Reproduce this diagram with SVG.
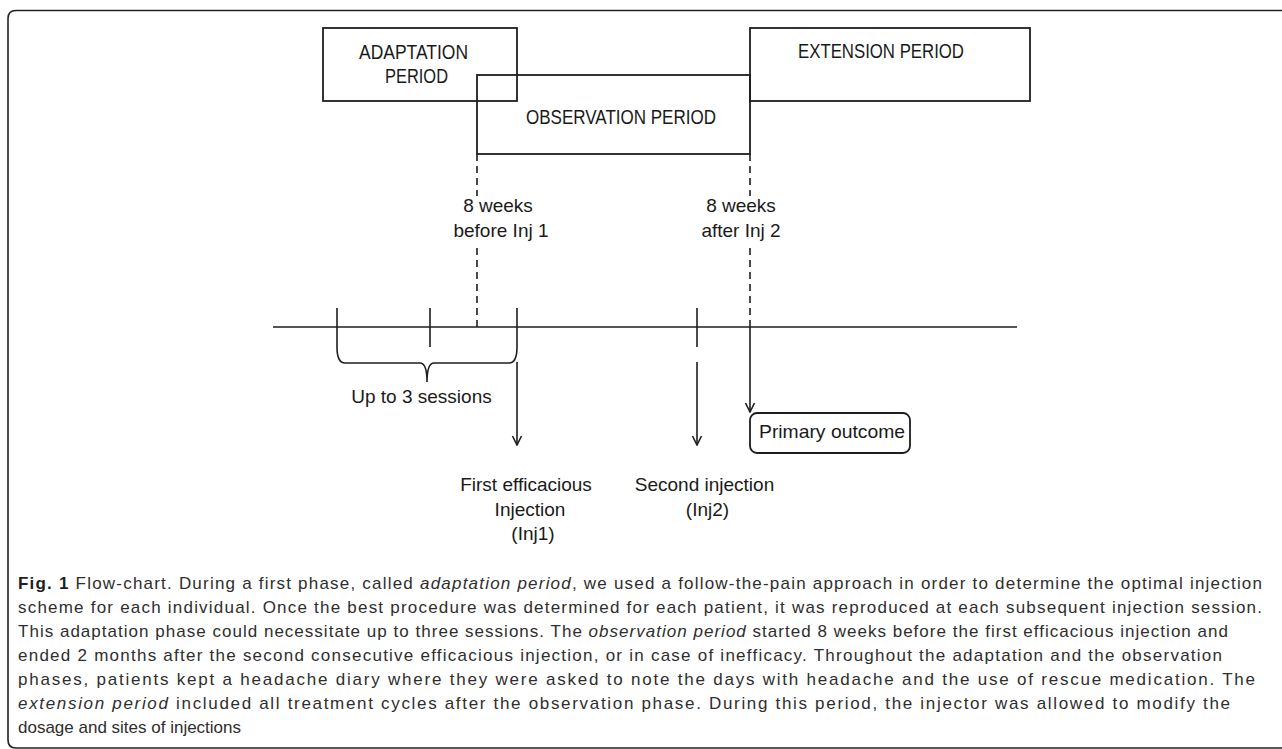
<svg xmlns="http://www.w3.org/2000/svg" width="1282" height="749" viewBox="0 0 1282 749">
<style>
.box{fill:none;stroke:#1e1e1e;stroke-width:1.8}
.ln{fill:none;stroke:#1e1e1e;stroke-width:1.6}
.dash{fill:none;stroke:#1e1e1e;stroke-width:1.6;stroke-dasharray:7 5}
.t{font-family:"Liberation Sans",Arial,sans-serif;font-size:19px;fill:#1a1a1a}
.cp{font-size:19.5px}
.c{text-anchor:middle}
.cap{font-family:"Liberation Sans",Arial,sans-serif;font-size:17px;fill:#2e2e2e}
.b{font-weight:bold;fill:#1e1e1e}
.i{font-style:italic}
</style>
<defs>
<marker id="arr" viewBox="0 0 12 12" refX="11" refY="6" markerWidth="12" markerHeight="12" markerUnits="userSpaceOnUse" orient="auto">
<path d="M2,1.5 L11,6 L2,10.5" fill="none" stroke="#1e1e1e" stroke-width="1.6"/>
</marker>
</defs>
<path d="M1282 10.5 H16 Q8 10.5 8 18.5 V740 Q8 748 16 748 H1282" fill="none" stroke="#222" stroke-width="1.6"/>

<g id="adaptation">
<rect class="box" x="323" y="28" width="194" height="73"/>
<text class="t cp c" x="413.5" y="59" textLength="109" lengthAdjust="spacingAndGlyphs">ADAPTATION</text>
<text class="t cp c" x="416.5" y="83" textLength="63" lengthAdjust="spacingAndGlyphs">PERIOD</text>
</g>
<g id="observation">
<rect class="box" x="477" y="75" width="273" height="79"/>
<text class="t cp c" x="621" y="124" textLength="190" lengthAdjust="spacingAndGlyphs">OBSERVATION PERIOD</text>
</g>
<g id="extension">
<rect class="box" x="750" y="28" width="280" height="73"/>
<text class="t cp c" x="881" y="58" textLength="166" lengthAdjust="spacingAndGlyphs">EXTENSION PERIOD</text>
</g>
<g id="label-before">
<text class="t c" x="498" y="212">8 weeks</text>
<text class="t c" x="501" y="237">before Inj 1</text>
</g>
<g id="label-after">
<text class="t c" x="741" y="212">8 weeks</text>
<text class="t c" x="741" y="237">after Inj 2</text>
</g>
<g id="sessions">
<text class="t c" x="421.5" y="403">Up to 3 sessions</text>
</g>
<g id="primary-outcome">
<rect class="box" x="750" y="413" width="160" height="40" rx="7"/>
<text class="t" x="759" y="438" textLength="146" lengthAdjust="spacingAndGlyphs">Primary outcome</text>
</g>
<g id="inj1">
<text class="t c" x="526" y="491">First efficacious</text>
<text class="t c" x="530" y="516">Injection</text>
<text class="t c" x="533" y="540">(Inj1)</text>
</g>
<g id="inj2">
<text class="t c" x="704.5" y="491">Second injection</text>
<text class="t c" x="707.5" y="516">(Inj2)</text>
</g>

<g id="connectors">
<path class="dash" d="M477 154 V196 M477 248 V327 M750 154 V196 M750 248 V327"/>
<path class="ln" d="M273 327 H1017"/>
<path class="ln" d="M337 308 V347 M517 308 V347 M697 308 V347"/>
<path class="ln" d="M430 308 V347" stroke-width="2.2"/>
<path class="ln" d="M337 347 Q337 363 345 363 H420 Q427 363 427 382 Q427 363 434 363 H509 Q517 363 517 347"/>
<path class="ln" d="M517 362 V445" marker-end="url(#arr)"/>
<path class="ln" d="M697 362 V445" marker-end="url(#arr)"/>
<path class="ln" d="M750 327 V412" marker-end="url(#arr)"/>
</g>

<g id="caption">
<text class="cap" x="18" y="589" textLength="1244" lengthAdjust="spacing"><tspan class="b">Fig. 1</tspan> Flow-chart. During a first phase, called <tspan class="i">adaptation period</tspan>, we used a follow-the-pain approach in order to determine the optimal injection</text>
<text class="cap" x="18" y="613" textLength="1244" lengthAdjust="spacing">scheme for each individual. Once the best procedure was determined for each patient, it was reproduced at each subsequent injection session.</text>
<text class="cap" x="18" y="637" textLength="1210" lengthAdjust="spacing">This adaptation phase could necessitate up to three sessions. The <tspan class="i">observation period</tspan> started 8 weeks before the first efficacious injection and</text>
<text class="cap" x="18" y="661" textLength="1204" lengthAdjust="spacing">ended 2 months after the second consecutive efficacious injection, or in case of inefficacy. Throughout the adaptation and the observation</text>
<text class="cap" x="18" y="685" textLength="1237" lengthAdjust="spacing">phases, patients kept a headache diary where they were asked to note the days with headache and the use of rescue medication. The</text>
<text class="cap" x="18" y="709" textLength="1212" lengthAdjust="spacing"><tspan class="i">extension period</tspan> included all treatment cycles after the observation phase. During this period, the injector was allowed to modify the</text>
<text class="cap" x="18" y="733">dosage and sites of injections</text>
</g>
</svg>
